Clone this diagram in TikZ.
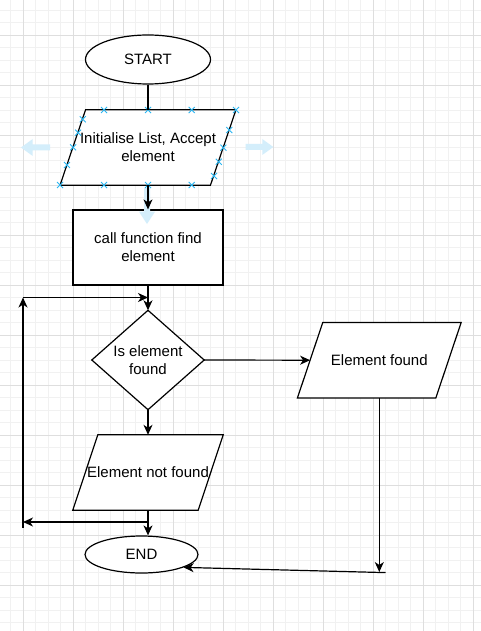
\documentclass[tikz,border=0pt]{standalone}
\usepackage{fontspec}
\setmainfont{Liberation Sans}
\usetikzlibrary{arrows.meta,shapes.geometric}
\pgfdeclarelayer{grid}
\pgfdeclarelayer{shapes}
\pgfsetlayers{grid,shapes,main}
\definecolor{minorgrid}{RGB}{241,241,241}
\definecolor{majorgrid}{RGB}{222,222,222}
\definecolor{selblue}{RGB}{41,182,242}
\definecolor{hintblue}{RGB}{212,238,251}
\newcommand\paraoutline[2]{%
  \begin{pgfonlayer}{shapes}
  \draw[shapeline, fill=white] ([xshift=#2pt]#1.north west) -- ([xshift=#2pt]#1.north east) -- ([xshift=-#2pt]#1.south east) -- ([xshift=-#2pt]#1.south west) -- cycle;
  \end{pgfonlayer}}
\newcommand\selmark[2]{%
  \draw[markline] (#1-3,#2-3) -- (#1+3,#2+3) (#1-3,#2+3) -- (#1+3,#2-3);}
\begin{document}
\begin{tikzpicture}[x=1pt,y=-1pt,
  shapeline/.style={line width=1.2pt, draw=black},
  txt/.style={rectangle, inner sep=0pt, align=center, font=\fontsize{15}{18}\selectfont, text=black},
  term/.style={txt, ellipse, shapeline, fill=white},
  proc/.style={txt, shapeline, fill=white},
  conn/.style={line width=1.2pt, draw=black},
  arr/.style={conn, -{Stealth[length=10pt,width=9pt,inset=3pt]}},
  markline/.style={line width=0.9pt, draw=selblue},
  hint/.style={fill=hintblue, draw=none}]
\useasboundingbox (0,0) rectangle (481,631);
% grid
\begin{pgfonlayer}{grid}
  \fill[white] (0,0) rectangle (481,631);
  \foreach \k in {0,...,37} {\draw[minorgrid, line width=0.8pt] ({10.5+12.5*\k},0) -- ({10.5+12.5*\k},631);}
  \foreach \k in {0,...,49} {\draw[minorgrid, line width=0.8pt] (0,{10+12.5*\k}) -- (481,{10+12.5*\k});}
  \foreach \k in {0,...,9} {\draw[majorgrid, line width=0.8pt] ({23+50*\k},0) -- ({23+50*\k},631);}
  \foreach \k in {0,...,11} {\draw[majorgrid, line width=0.8pt] (0,{35+50*\k}) -- (481,{35+50*\k});}
\end{pgfonlayer}
% nodes
\node[term, minimum width=125pt, minimum height=49pt] (start) at (148,59.5) {START};
\node[txt, minimum width=150pt, minimum height=75pt] (init) at (148,147.5) {Initialise List, Accept\\element};
\paraoutline{init}{12.75}
\node[proc, minimum width=150pt, minimum height=75pt] (call) at (148,247.5) {call function find\\element};
\node[txt, minimum width=112pt, minimum height=99pt] (isfound) at (148,360) {Is element\\found};
\begin{pgfonlayer}{shapes}
  \draw[shapeline, fill=white] (isfound.north) -- (isfound.east) -- (isfound.south) -- (isfound.west) -- cycle;
\end{pgfonlayer}
\node[txt, minimum width=138pt, minimum height=75pt] (found) at (379.3,360.2) {Element found};
\paraoutline{found}{12.65}
\node[txt, minimum width=125pt, minimum height=75pt] (notfound) at (148,472.5) {Element not found};
\paraoutline{notfound}{12.5}
\node[term, minimum width=113pt, minimum height=37pt] (end) at (141.5,554.5) {END};
% selection hints
\fill[hint] (50,144.5) -- (32.7,144.5) -- (32.7,139) -- (21,147.5) -- (32.7,156) -- (32.7,150.5) -- (50,150.5) -- cycle;
\fill[hint] (245.7,144) -- (262.3,144) -- (262.3,139) -- (273.3,147) -- (262.3,155) -- (262.3,150) -- (245.7,150) -- cycle;
\fill[hint] (144,188) -- (150,188) -- (150,211.7) -- (155,211.7) -- (147,224) -- (139,211.7) -- (144,211.7) -- cycle;
\selmark{104}{110}\selmark{148}{110}\selmark{191.7}{110}\selmark{236}{110}
\selmark{60}{185}\selmark{104}{185}\selmark{148}{185}\selmark{191.7}{185}
\selmark{82.8}{119.3}\selmark{78.1}{132.7}\selmark{73.1}{147.3}\selmark{66.9}{165}
\selmark{229.3}{130}\selmark{223.4}{147.7}\selmark{218.8}{161.7}\selmark{214}{176}
% coordinates
\coordinate (lb) at (23,528);
\coordinate (lt) at (23,297.5);
\coordinate (lret) at (23,522);
\coordinate (fdown) at (379.3,572);
\coordinate (fend) at (385.5,572.6);
% connectors
\draw[conn] (start.south) -- (init.north);
\draw[arr] (init.south) -- (call.north);
\draw[arr] (call.south) -- (isfound.north);
\draw[arr] (isfound.south) -- (notfound.north);
\draw[arr] (isfound.east) -- (found.west);
\draw[arr] (notfound.south) -- (notfound.south |- end.north);
\draw[arr] (notfound.south |- lret) -- (lret);
\draw[arr] (lb) -- (lt);
\draw[arr] (lt) -- (lt -| call.south);
\draw[arr] (found.south) -- (fdown);
\draw[arr] (fend) -- (end.-17);
\end{tikzpicture}
\end{document}
